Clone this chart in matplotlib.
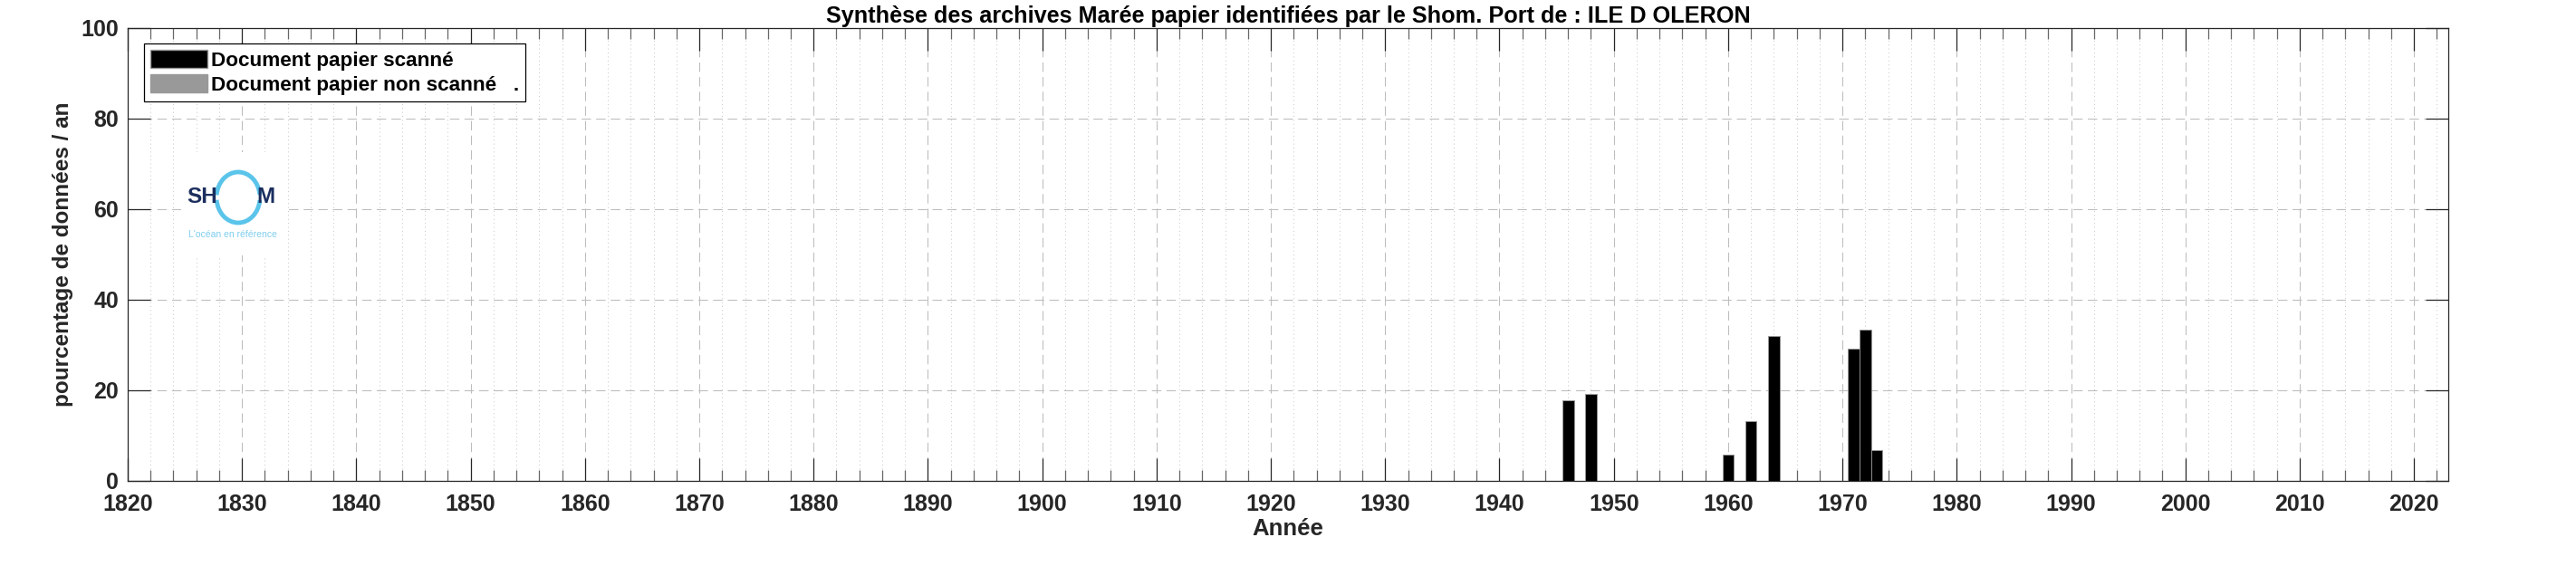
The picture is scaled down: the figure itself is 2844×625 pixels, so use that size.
import matplotlib
matplotlib.use("Agg")
import matplotlib.pyplot as plt
from matplotlib.patches import Patch, Rectangle, Arc
from matplotlib.ticker import MultipleLocator

plt.rcParams['font.family'] = ['Liberation Sans', 'DejaVu Sans']
plt.rcParams['font.weight'] = 'bold'

# data
years = [1946, 1948, 1960, 1962, 1964, 1971, 1972, 1973]
scanned = [17.8, 19.2, 5.9, 13.2, 32.0, 29.3, 33.4, 6.8]
non_scanned = [0, 0, 0, 0, 0, 0, 0, 0]

title = "Synthèse des archives Marée papier identifiées par le Shom. Port de : ILE D OLERON"
xticks = list(range(1820, 2021, 10))
yticks = [0, 20, 40, 60, 80, 100]

txt = '#262626'
fig = plt.figure(figsize=(28.44, 6.25), dpi=100)
ax = fig.add_axes([141/2844, 1-531/625, (2703-141)/2844, 500/625])

ax.bar(years, scanned, width=1.0, color='black', edgecolor='0.6', linewidth=0.6, zorder=3)
ax.bar(years, non_scanned, bottom=scanned, width=1.0, color='#999999', edgecolor='0.6',
       linewidth=0.6, zorder=3)

ax.set_xlim(1820, 2023)
ax.set_ylim(0, 100)
ax.set_xticks(xticks)
ax.set_yticks(yticks)
ax.xaxis.set_minor_locator(MultipleLocator(2))

ax.grid(True, which='major', axis='both', color='#bdbdbd', linestyle=(0, (10, 5.5)), linewidth=0.75)
ax.grid(True, which='minor', axis='x', color='#c4c4c4', linestyle=(0, (1, 3.5)), linewidth=0.7)
ax.set_axisbelow(True)

ax.tick_params(which='major', direction='in', length=18, width=0.9, top=True, right=True,
               color=txt, labelsize=18, labelcolor=txt)
ax.tick_params(which='major', axis='x', pad=10)
ax.tick_params(which='major', axis='y', pad=7)
ax.tick_params(which='minor', direction='in', length=8.5, width=0.9, top=True, color='#666666')
for s in ax.spines.values():
    s.set_color(txt)
    s.set_linewidth(0.9)

ax.set_xlabel('Année', fontsize=18.5, fontweight='bold', color=txt, labelpad=2)
ax.set_ylabel('pourcentage de données / an', fontsize=17.5, fontweight='bold', color=txt, labelpad=6)
ax.set_title(title, fontsize=18.2, fontweight='bold', color='black', pad=4)

handles = [Patch(facecolor='black', edgecolor='0.6', label='Document papier scanné'),
           Patch(facecolor='#999999', edgecolor='0.6', label='Document papier non scanné   .')]
leg = ax.legend(handles=handles, loc='upper left', bbox_to_anchor=(0.007, 0.966),
                borderaxespad=0, fontsize=16.2, handlelength=2.8, handleheight=1.0,
                handletextpad=0.2, labelspacing=0.2, borderpad=0.3, fancybox=False,
                edgecolor='black', framealpha=1)
leg.get_frame().set_linewidth(0.9)

# SHOM logo
W, H = 2844, 625
fig.add_artist(Rectangle((200/W, 1-282/H), 116/W, 114/H, transform=fig.transFigure,
                         facecolor='white', edgecolor='none', zorder=2))
navy = '#1b2e5e'
blue = '#5bc4ea'
fig.text(223.5/W, 1-218/H, 'SH', fontsize=17.5, color=navy, ha='center', va='center', zorder=3)
fig.text(293/W, 1-218/H, 'M', fontsize=17.5, color=navy, ha='center', va='center', zorder=3)
for t1, t2 in [(30, 153), (208, 330)]:
    fig.add_artist(Arc((263/W, 1-218/H), 48/W, 56/H, theta1=t1, theta2=t2,
                       transform=fig.transFigure, color=blue, linewidth=3.5, zorder=3))
fig.text(257/W, 1-259/H, "L'océan en référence", fontsize=7.5, fontweight='normal',
         color='#7fcdee', ha='center', va='center', zorder=3)

fig.savefig('out.png', dpi=100, facecolor='white')
